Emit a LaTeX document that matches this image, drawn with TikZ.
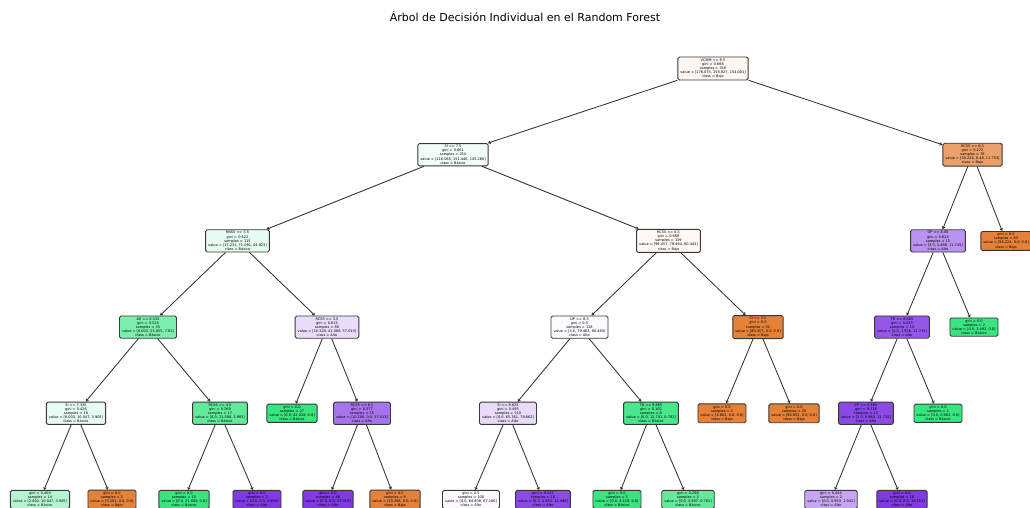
\documentclass[tikz,border=0pt]{standalone}
\usepackage{fontspec}
\setmainfont{DejaVu Sans}
\usetikzlibrary{arrows.meta}
\definecolor{bajo}{HTML}{E58139}
\definecolor{basico}{HTML}{39E581}
\definecolor{alto}{HTML}{8139E5}
\begin{document}
\begin{tikzpicture}[x=1pt,y=-1pt,
  tn/.style={draw=black!78, line width=0.9pt, rounded corners=1.5pt, align=center,
    font=\fontsize{3.5}{4.1}\selectfont, inner xsep=2.5pt, inner ysep=1.6pt},
  edge/.style={draw=black!80, line width=0.85pt, -{Straight Barb[length=2pt,width=2.6pt]}},
  titlefont/.style={font=\fontsize{11}{13}\selectfont}]
\useasboundingbox[fill=white] (0,0) rectangle (1030,508);
\node[titlefont] (title) at (525,16) {Árbol de Decisión Individual en el Random Forest};
% level 0
\node[tn, fill=bajo!6] (r) at (713,68.5) {VCMM <= 8.5\\gini = 0.666\\samples = 316\\value = [176.075, 158.927, 154.001]\\class = Bajo};
% level 1
\node[tn, fill=basico!6] (rL) at (453,154.7) {SI <= 7.5\\gini = 0.661\\samples = 254\\value = [116.568, 151.446, 145.266]\\class = Básico};
\node[tn, fill=bajo!75] (rR) at (972.5,154.7) {RCSS <= 6.5\\gini = 0.272\\samples = 78\\value = [59.224, 8.48, 11.753]\\class = Bajo};
% level 2
\node[tn, fill=basico!12] (rLL) at (237.5,240.9) {RNSS <= 5.5\\gini = 0.622\\samples = 115\\value = [17.231, 71.081, 44.823]\\class = Básico};
\node[tn, fill=bajo!5] (rLR) at (668.5,240.9) {RCSS <= 6.5\\gini = 0.668\\samples = 139\\value = [99.457, 79.464, 60.443]\\class = Bajo};
\node[tn, fill=alto!55] (rRL) at (938,240.9) {DP <= 8.08\\gini = 0.624\\samples = 15\\value = [3.0, 5.486, 11.715]\\class = Alto};
\node[tn, fill=bajo] (rRR) at (1006,240.9) {gini = 0.0\\samples = 63\\value = [56.224, 0.0, 0.0]\\class = Bajo};
% level 3
\node[tn, fill=basico!65] (rLLL) at (148,327.1) {AE <= 0.333\\gini = 0.524\\samples = 35\\value = [8.003, 55.055, 7.81]\\class = Básico};
\node[tn, fill=alto!17] (rLLR) at (327,327.1) {RCSS <= 3.5\\gini = 0.615\\samples = 80\\value = [10.228, 41.068, 57.013]\\class = Alto};
\node[tn, fill=alto!2] (rLRL) at (579.5,327.1) {DP <= 8.5\\gini = 0.5\\samples = 118\\value = [3.0, 79.463, 80.493]\\class = Alto};
\node[tn, fill=bajo] (rLRR) at (758,327.1) {SI <= 3.5\\gini = 0.0\\samples = 31\\value = [89.457, 0.0, 0.0]\\class = Bajo};
\node[tn, fill=alto!85] (rRLL) at (902,327.1) {TR <= 8.665\\gini = 0.433\\samples = 13\\value = [3.0, 1.926, 11.715]\\class = Alto};
\node[tn, fill=basico] (rRLR) at (974,327.1) {gini = 0.0\\samples = 2\\value = [0.0, 3.493, 0.0]\\class = Básico};
% level 4
\node[tn, fill=basico!12] (rLLLL) at (76,413.3) {SI <= 7.335\\gini = 0.426\\samples = 16\\value = [8.003, 10.047, 3.905]\\class = Básico};
\node[tn, fill=basico!80] (rLLLR) at (220,413.3) {RCSS <= 4.0\\gini = 0.269\\samples = 17\\value = [0.0, 21.008, 3.905]\\class = Básico};
\node[tn, fill=basico] (rLLRL) at (292,413.3) {gini = 0.0\\samples = 27\\value = [0.0, 42.028, 0.0]\\class = Básico};
\node[tn, fill=alto!70] (rLLRR) at (362,413.3) {RCSS <= 6.5\\gini = 0.377\\samples = 55\\value = [10.208, 0.0, 57.013]\\class = Alto};
\node[tn, fill=alto!18] (rLRLL) at (508,413.3) {SI <= 8.625\\gini = 0.495\\samples = 110\\value = [0.0, 65.761, 79.662]\\class = Alto};
\node[tn, fill=basico!92] (rLRLR) at (651,413.3) {TR <= 8.665\\gini = 0.102\\samples = 8\\value = [0.0, 12.701, 0.781]\\class = Básico};
\node[tn, fill=bajo] (rLRRL) at (722,413.3) {gini = 0.0\\samples = 2\\value = [4.802, 0.0, 0.0]\\class = Bajo};
\node[tn, fill=bajo] (rLRRR) at (794,413.3) {gini = 0.0\\samples = 29\\value = [84.655, 0.0, 0.0]\\class = Bajo};
\node[tn, fill=alto!92] (rRLLL) at (866,413.3) {CP <= 0.165\\gini = 0.228\\samples = 12\\value = [3.0, 0.963, 11.715]\\class = Alto};
\node[tn, fill=basico] (rRLLR) at (938,413.3) {gini = 0.0\\samples = 1\\value = [0.0, 0.963, 0.0]\\class = Básico};
% level 5
\node[tn, fill=basico!38] (rLLLLL) at (40,499.5) {gini = 0.469\\samples = 14\\value = [2.802, 10.047, 3.905]\\class = Básico};
\node[tn, fill=bajo] (rLLLLR) at (112,499.5) {gini = 0.0\\samples = 2\\value = [5.201, 0.0, 0.0]\\class = Bajo};
\node[tn, fill=basico] (rLLLRL) at (184,499.5) {gini = 0.0\\samples = 15\\value = [0.0, 21.008, 0.0]\\class = Básico};
\node[tn, fill=alto] (rLLLRR) at (257,499.5) {gini = 0.0\\samples = 2\\value = [0.0, 0.0, 3.905]\\class = Alto};
\node[tn, fill=alto] (rLLRRL) at (328,499.5) {gini = 0.0\\samples = 46\\value = [0.0, 0.0, 57.013]\\class = Alto};
\node[tn, fill=bajo] (rLLRRR) at (395,499.5) {gini = 0.0\\samples = 9\\value = [10.208, 0.0, 0.0]\\class = Bajo};
\node[tn, fill=alto!3] (rLRLLL) at (471,499.5) {gini = 0.5\\samples = 100\\value = [0.0, 64.808, 67.166]\\class = Alto};
\node[tn, fill=alto!92] (rLRLLR) at (543,499.5) {gini = 0.127\\samples = 10\\value = [0.0, 0.953, 12.496]\\class = Alto};
\node[tn, fill=basico] (rLRLRL) at (617,499.5) {gini = 0.0\\samples = 5\\value = [0.0, 9.119, 0.0]\\class = Básico};
\node[tn, fill=basico!80] (rLRLRR) at (688,499.5) {gini = 0.298\\samples = 3\\value = [0.0, 3.587, 0.781]\\class = Básico};
\node[tn, fill=alto!45] (rRLLLL) at (831,499.5) {gini = 0.444\\samples = 2\\value = [0.0, 0.953, 1.942]\\class = Alto};
\node[tn, fill=alto] (rRLLLR) at (902,499.5) {gini = 0.0\\samples = 10\\value = [0.0, 0.0, 10.153]\\class = Alto};
% edges
\foreach \p in {r,rL,rR,rLL,rLR,rRL,rLLL,rLLR,rLRL,rLRR,rRLL}{
  \draw[edge] (\p) -- (\p L);
  \draw[edge] (\p) -- (\p R);
}
\foreach \p in {rLLLL,rLLLR,rLLRR,rLRLL,rLRLR,rRLLL}{
  \draw[edge] (\p) -- (\p L);
  \draw[edge] (\p) -- (\p R);
}
\end{tikzpicture}
\end{document}
